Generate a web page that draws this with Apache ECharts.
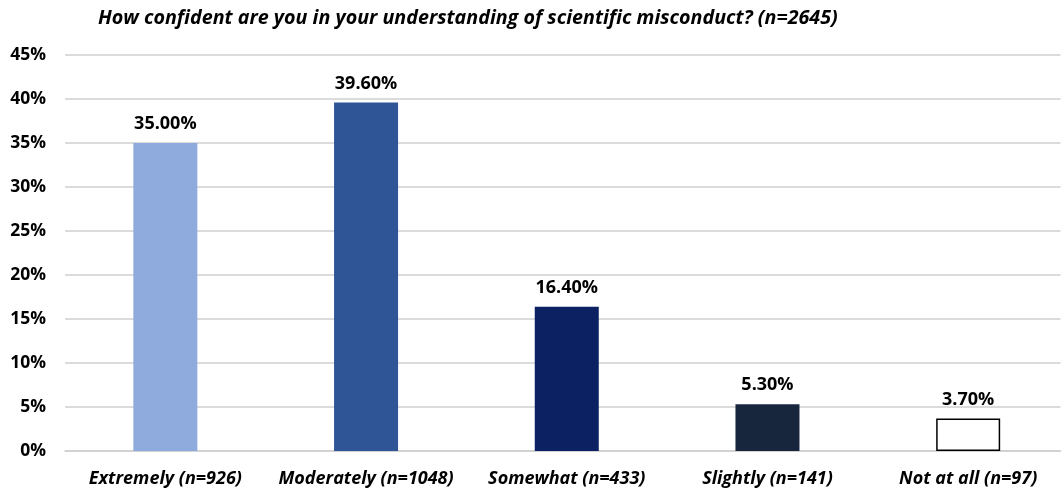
<!DOCTYPE html>
<html><head><meta charset="utf-8">
<script src="https://cdn.jsdelivr.net/npm/echarts@6/dist/echarts.min.js"></script>
<style>html,body{margin:0;padding:0;background:#fff}#c{width:1062px;height:490px}</style>
</head><body><div id="c"></div>
<script>
const categories = ['Extremely (n=926)', 'Moderately (n=1048)', 'Somewhat (n=433)', 'Slightly (n=141)', 'Not at all (n=97)'];
const values = [35.0, 39.6, 16.4, 5.3, 3.7];
const barColors = ['#8FAADC', '#2F5597', '#0B2161', '#18263D', '#FFFFFF'];
const titleText = 'How confident are you in your understanding of scientific misconduct? (n=2645)';

const FONT = '"Open Sans", sans-serif';
const idx = categories.map((c, i) => i);
const chart = echarts.init(document.getElementById('c'));
chart.setOption({
  animation: false,
  title: {
    text: titleText, left: 93, top: 3,
    textStyle: {fontFamily: FONT, fontSize: 19.7, fontWeight: 'bold', fontStyle: 'italic', color: '#000'}
  },
  grid: {left: 65, top: 55, width: 995.5, height: 396},
  xAxis: {
    type: 'value', min: -0.5, max: 4.46,
    splitLine: {show: false},
    axisLine: {onZero: false, lineStyle: {color: '#cfcfcf', width: 1.5}},
    axisTick: {show: false},
    axisLabel: {
      customValues: idx, showMinLabel: true, showMaxLabel: true, hideOverlap: false,
      fontFamily: FONT, fontSize: 18, fontWeight: 'bold', fontStyle: 'italic', color: '#000', margin: 19,
      formatter: v => categories[Math.round(v)] || ''
    }
  },
  yAxis: {
    type: 'value', min: 0, max: 45, interval: 5,
    axisLine: {show: false}, axisTick: {show: false},
    splitLine: {lineStyle: {color: '#cfcfcf', width: 1.5}},
    axisLabel: {fontFamily: FONT, fontSize: 17.5, fontWeight: 'bold', color: '#000', margin: 19, formatter: v => v + '%'}
  },
  series: [{
    type: 'bar', barWidth: 64,
    data: values.map((v, i) => ({
      value: [i, v],
      itemStyle: i === 4 ? {color: barColors[i], borderColor: '#000', borderWidth: 1.5} : {color: barColors[i]}
    })),
    label: {
      show: true, position: 'top', distance: 10,
      fontFamily: FONT, fontSize: 18, fontWeight: 'bold', color: '#000',
      formatter: p => p.value[1].toFixed(2) + '%'
    }
  }]
});
</script></body></html>
